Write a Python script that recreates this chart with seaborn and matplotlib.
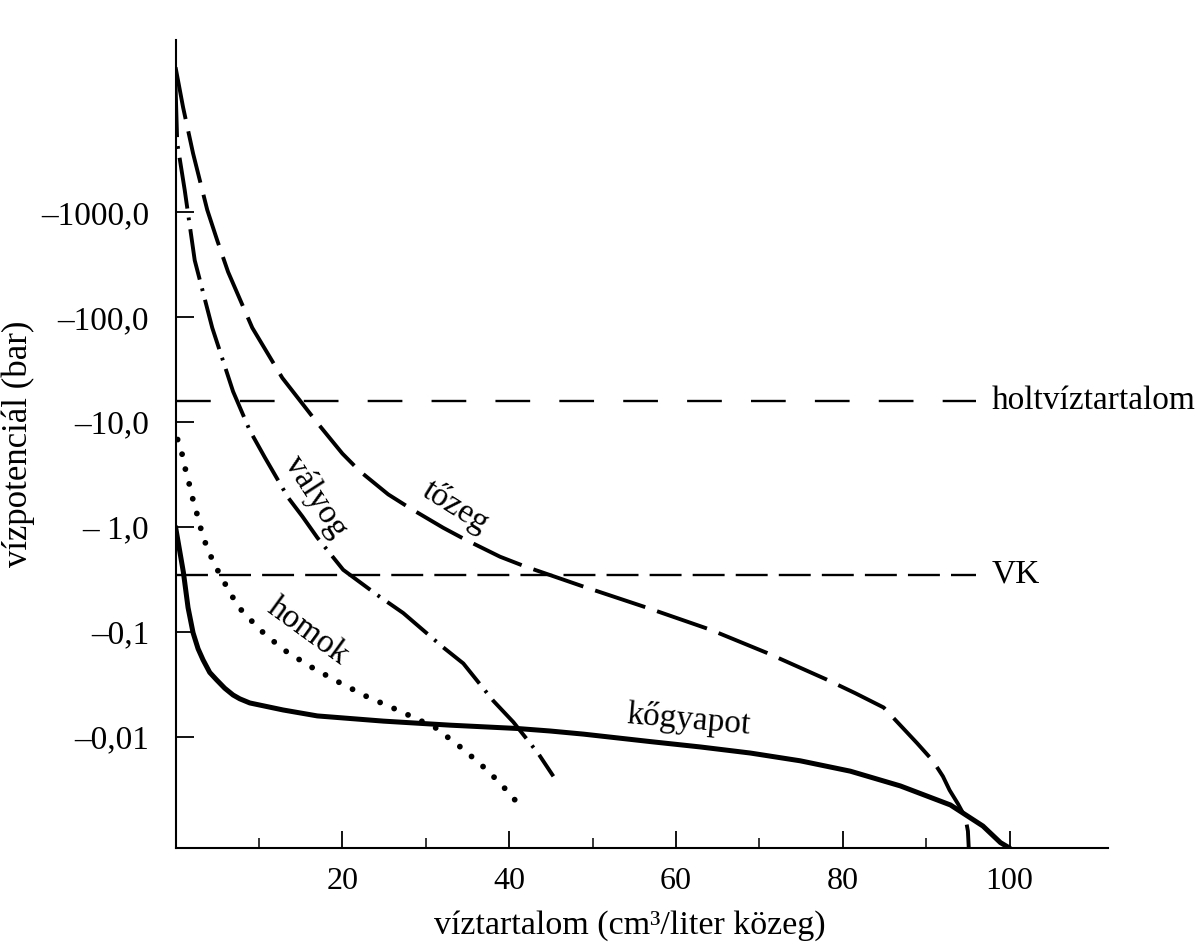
import numpy as np
import pandas as pd
import matplotlib
matplotlib.use("Agg")
import matplotlib.pyplot as plt
from matplotlib.ticker import FixedLocator, NullLocator
import seaborn as sns

# ---------------- data ----------------
# water content (cm3 / liter medium) and water potential (bar, negative)
kogyapot_x = [0, 0.94, 1.5, 2.1, 2.7, 3.3, 4.1, 4.9, 5.9, 6.9, 7.7, 8.9, 12.9, 17,
              24.9, 32.9, 40.9, 44.9, 48.9, 56.9, 62.9, 68.9, 74.9, 80.9, 86.9, 92.9,
              96.8, 98.9, 100]
kogyapot_psi = [-1.0, -0.37, -0.17, -0.098, -0.069, -0.054, -0.041, -0.035, -0.029,
                -0.025, -0.023, -0.021, -0.018, -0.0158, -0.0141, -0.0129, -0.012,
                -0.01135, -0.0106, -0.0090, -0.0080, -0.0070, -0.0059, -0.0047, -0.0034,
                -0.00224, -0.00141, -0.00098, -0.00087]

homok_x = [0.25, 0.9, 1.26, 1.74, 2.2, 2.7, 3.2, 3.8, 4.6, 5.6, 7.5, 10.1, 12.9, 16.1,
           19.3, 23.0, 26.6, 31.1, 34.5, 37.5, 40.4, 41.6]
homok_psi = [-6.8, -4.6, -3.3, -2.4, -1.66, -1.23, -0.85, -0.63, -0.45, -0.32, -0.174,
             -0.105, -0.068, -0.047, -0.034, -0.024, -0.018, -0.0123, -0.0076, -0.0047,
             -0.0027, -0.00195]

valyog_x = [0, 0.2, 1.1, 2.3, 4.4, 6.9, 8.9, 10.7, 13.5, 15.2, 17.0, 20.1, 24.2, 27.3,
            32.1, 34.5, 38.1, 40.5, 43.5, 45.3]
valyog_psi = [-16000, -4570, -1620, -347, -79, -19.5, -8.3, -4.6, -1.9, -1.26, -0.79,
              -0.39, -0.224, -0.151, -0.071, -0.05, -0.022, -0.0138, -0.0069, -0.0042]

tozeg_x = [0, 0.9, 2.1, 3.8, 5.0, 6.3, 9.2, 12.8, 17.0, 20.0, 22.1, 25.5, 28.1, 32.1,
           34.7, 38.9, 41.9, 48.9, 56.5, 64.1, 70.9, 78.1, 81.5, 84.9, 88.9, 90.8, 92.0,
           92.8, 93.8, 94.7, 95.0, 95.1]
tozeg_psi = [-24000, -10000, -3630, -1050, -537, -269, -79, -26.3, -9.8, -5.0, -3.39,
             -2.04, -1.51, -0.98, -0.76, -0.52, -0.42, -0.27, -0.17, -0.105, -0.063,
             -0.035, -0.026, -0.019, -0.0087, -0.0059, -0.0042, -0.0031, -0.0023,
             -0.0017, -0.00126, -0.00087]

ref_names = ["holtvíztartalom", "VK"]
ref_psi = [-16, -0.35]
ref_x_end = 96

curve_labels = ["vályog", "tőzeg", "homok", "kőgyapot"]

y_tick_vals = [-1000, -100, -10, -1, -0.1, -0.01]
y_tick_labels = ["–1000,0", "–100,0", "–10,0", "– 1,0", "–0,1", "–0,01"]
x_major = [20, 40, 60, 80, 100]
x_minor = [10, 30, 50, 70, 90]

x_label = "víztartalom (cm³/liter közeg)"
y_label = "vízpotenciál (bar)"

# ---------------- style ----------------
sns.set_style("ticks")
plt.rcParams["font.family"] = ["Liberation Serif", "DejaVu Serif"]
plt.rcParams["lines.scale_dashes"] = False

fig = plt.figure(figsize=(12.04, 9.46), dpi=100)
ax = fig.add_axes([0.1458, 0.1036, 0.7745, 0.8541])
ax.set_yscale("log")


def draw(x, psi, lw, ls, cap="butt"):
    df = pd.DataFrame({"x": x, "s": -np.asarray(psi, dtype=float)})
    sns.lineplot(data=df, x="x", y="s", ax=ax, color="black", lw=lw,
                 sort=False, estimator=None)
    ln = ax.lines[-1]
    ln.set_linestyle(ls)
    ln.set_dash_capstyle(cap)
    ln.set_solid_capstyle(cap)
    ln.set_solid_joinstyle("round")
    ln.set_dash_joinstyle("round")
    return ln


# reference lines
draw([0, ref_x_end], [ref_psi[0]] * 2, 1.7, (0, (25, 21)))
draw([0, ref_x_end], [ref_psi[1]] * 2, 1.7, (0, (23, 8)))

# curves
draw(tozeg_x, tozeg_psi, 2.8, (0, (38, 9)))
draw(valyog_x, valyog_psi, 2.8, (0, (37, 6.5, 2, 6.5)))
draw(homok_x, homok_psi, 4.2, (0, (0.01, 11)), cap="round")
draw(kogyapot_x, kogyapot_psi, 3.6, "-", cap="round")

# axes limits / ticks
ax.set_xlim(0, 111.8)
ax.set_ylim(10 ** -3.06, 10 ** 4.64)
ax.xaxis.set_major_locator(FixedLocator(x_major))
ax.xaxis.set_minor_locator(FixedLocator(x_minor))
ax.set_xticklabels([str(v) for v in x_major])
ax.yaxis.set_major_locator(FixedLocator([-v for v in y_tick_vals]))
ax.yaxis.set_minor_locator(NullLocator())
ax.set_yticklabels(y_tick_labels)

ax.tick_params(axis="x", which="major", direction="in", length=12, width=1.3,
               pad=14, labelsize=23, colors="black")
ax.tick_params(axis="x", which="minor", direction="in", length=7, width=1.3)
ax.tick_params(axis="y", which="major", direction="in", length=13, width=1.3,
               pad=19, labelsize=24, colors="black")

for s in ["top", "right"]:
    ax.spines[s].set_visible(False)
for s in ["left", "bottom"]:
    ax.spines[s].set_linewidth(1.5)
    ax.spines[s].set_color("black")

ax.set_xlabel(x_label, fontsize=24.5, color="black")
ax.xaxis.set_label_coords(0.487, -0.077)
ax.set_ylabel(y_label, fontsize=25, labelpad=4, color="black")
ax.grid(False)

# reference line names
for name, p in zip(ref_names, ref_psi):
    ax.text(97.9, -p, name, fontsize=24, ha="left", va="center", color="black")

# curve names
label_pos = {"vályog": (16.8, 1.93, -57), "tőzeg": (33.6, 1.55, -32),
             "homok": (15.9, 0.1, -36), "kőgyapot": (61.5, 0.0145, -5)}
for name in curve_labels:
    xx, yy, rot = label_pos[name]
    ax.text(xx, yy, name, fontsize=24, ha="center", va="center", rotation=rot,
            rotation_mode="anchor", color="black")

fig.savefig("out.png", dpi=100, facecolor="white")
